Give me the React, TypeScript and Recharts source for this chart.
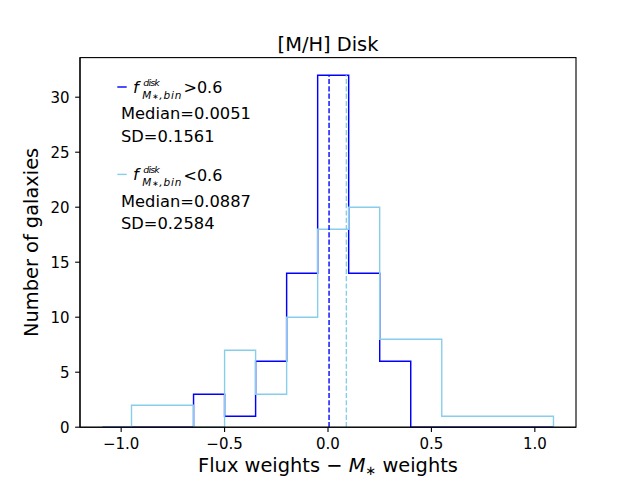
import React from "react";
import { ComposedChart, Line, XAxis, YAxis } from "recharts";

// ---- data ----
const xTicks = [-1, -0.5, 0, 0.5, 1];
const yTicks = [0, 5, 10, 15, 20, 25, 30];
const xDomain = [-1.199, 1.199];
const yDomain = [0, 33.6];

// f_disk > 0.6 (dark blue)
const edgesHigh = [-1.09, -0.65, -0.5, -0.35, -0.2, -0.05, 0.1, 0.25, 0.4, 1.09];
const countsHigh = [0, 3, 1, 6, 14, 32, 14, 6, 0];
// f_disk < 0.6 (light blue)
const edgesLow = [-1.09, -0.95, -0.65, -0.5, -0.35, -0.2, -0.05, 0.1, 0.25, 0.55, 1.09];
const countsLow = [0, 2, 0, 7, 3, 10, 18, 20, 8, 1];

const medianHigh = 0.0051;
const medianLow = 0.0887;
const sdHigh = 0.1561;
const sdLow = 0.2584;

const colorHigh = "#0000ff";
const colorLow = "#87ceeb";
const FONT = "DejaVu Sans";

function stepData(edges: number[], counts: number[]) {
  const pts = [{ x: edges[0], y: 0 }];
  counts.forEach((c, i) => pts.push({ x: edges[i], y: c }));
  pts.push({ x: edges[edges.length - 1], y: 0 });
  return pts;
}

const histHigh = stepData(edgesHigh, countsHigh);
const histLow = stepData(edgesLow, countsLow);
const peak = Math.max(...countsHigh, ...countsLow);
const medHighLine = [
  { x: medianHigh, y: 0 },
  { x: medianHigh, y: peak },
];
const medLowLine = [
  { x: medianLow, y: 0 },
  { x: medianLow, y: peak },
];

const fmtX = (v: number) => (v < 0 ? "\u2212" : "") + Math.abs(v).toFixed(1);

function LegendGroup({ y0, color, op, median, sd }: any) {
  return (
    <g>
      <line x1={117.3} x2={126.7} y1={y0} y2={y0} stroke={color} strokeWidth={1.4} />
      <text x={133} y={y0 + 6} fontSize={16.3} fontStyle="italic">f</text>
      <text x={143.3} y={y0 - 1.5} fontSize={9.5} fontStyle="italic" textLength={16.5}>disk</text>
      <text x={142.3} y={y0 + 11.5} fontSize={10.5} fontStyle="italic" textLength={39}>
        M<tspan fontSize={7.5} fontStyle="normal">{"\u2217"}</tspan>,bin
      </text>
      <text x={183.5} y={y0 + 6.3} fontSize={16}>{op}0.6</text>
      <text x={121} y={y0 + 32.3} fontSize={16.3}>Median={median.toFixed(4)}</text>
      <text x={121} y={y0 + 54.7} fontSize={16.3}>SD={sd.toFixed(4)}</text>
    </g>
  );
}

export default function App() {
  return (
    <div style={{ position: "absolute", left: 0, top: 0, width: 640, height: 480, background: "#fff", fontFamily: FONT }}>
      <ComposedChart
        width={640}
        height={480}
        margin={{ top: 57.6, right: 64, left: 0, bottom: 0 }}
      >
        <XAxis
          type="number"
          dataKey="x"
          domain={xDomain}
          ticks={xTicks}
          tickFormatter={fmtX}
          allowDataOverflow
          height={52.8}
          tickSize={4.86}
          tickMargin={6}
          axisLine={{ stroke: "#000", strokeWidth: 1.11 }}
          tickLine={{ stroke: "#000", strokeWidth: 1.11 }}
          tick={{ fill: "#000", fontSize: 15, fontFamily: FONT }}
        />
        <YAxis
          type="number"
          dataKey="y"
          domain={yDomain}
          ticks={yTicks}
          allowDataOverflow
          width={80}
          tickSize={4.86}
          tickMargin={5.5}
          axisLine={{ stroke: "#000", strokeWidth: 1.11 }}
          tickLine={{ stroke: "#000", strokeWidth: 1.11 }}
          tick={{ fill: "#000", fontSize: 15, fontFamily: FONT }}
        />
        <Line
          data={histHigh}
          dataKey="y"
          type="stepAfter"
          stroke={colorHigh}
          strokeWidth={1.45}
          dot={false}
          activeDot={false}
          isAnimationActive={false}
        />
        <Line
          data={histLow}
          dataKey="y"
          type="stepAfter"
          stroke={colorLow}
          strokeWidth={1.39}
          dot={false}
          activeDot={false}
          isAnimationActive={false}
        />
        <Line
          data={medHighLine}
          dataKey="y"
          type="linear"
          stroke={colorHigh}
          strokeWidth={1.39}
          strokeDasharray="5.1 2.2"
          dot={false}
          activeDot={false}
          isAnimationActive={false}
        />
        <Line
          data={medLowLine}
          dataKey="y"
          type="linear"
          stroke={colorLow}
          strokeWidth={1.39}
          strokeDasharray="5.1 2.2"
          dot={false}
          activeDot={false}
          isAnimationActive={false}
        />
      </ComposedChart>
      <svg
        width={640}
        height={480}
        style={{ position: "absolute", left: 0, top: 0, pointerEvents: "none" }}
        fontFamily={FONT}
        fill="#000"
      >
        <rect x={80} y={57.6} width={496} height={369.6} fill="none" stroke="#000" strokeWidth={1.11} />
        <text x={328} y={51} textAnchor="middle" fontSize={19.4}>[M/H] Disk</text>
        <text x={328} y={471.7} textAnchor="middle" fontSize={19.4}>
          Flux weights {"\u2212"} <tspan fontStyle="italic">M</tspan>
          <tspan fontSize={13} dy={3}>{"\u2217"}</tspan>
          <tspan dy={-3}> weights</tspan>
        </text>
        <text x={38.5} y={242.4} textAnchor="middle" fontSize={19.4} transform="rotate(-90 38.5 242.4)">
          Number of galaxies
        </text>
        <LegendGroup y0={87} color={colorHigh} op=">" median={medianHigh} sd={sdHigh} />
        <LegendGroup y0={174.4} color={colorLow} op="<" median={medianLow} sd={sdLow} />
      </svg>
    </div>
  );
}
